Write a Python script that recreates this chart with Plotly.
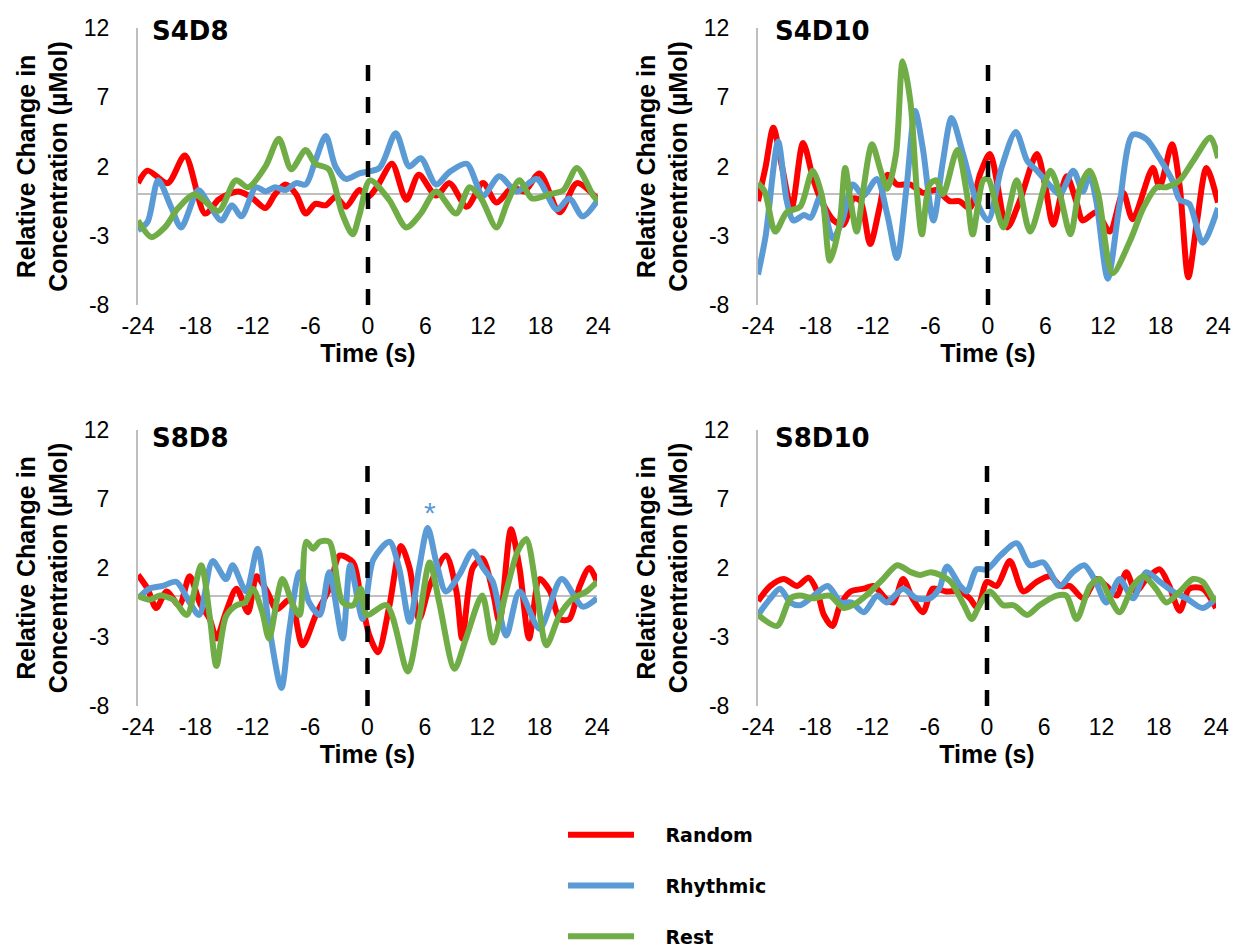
import plotly.graph_objects as go

# ---------------- data (time in s, relative change in µMol) ----------------
series_names = ["Random", "Rhythmic", "Rest"]
series_colors = ["#FF0000", "#5B9BD5", "#70AD47"]
panel_titles = ["S4D8", "S4D10", "S8D8", "S8D10"]
x_ticks = [-24, -18, -12, -6, 0, 6, 12, 18, 24]
x_tick_labels = ["-24", "-18", "-12", "-6", "0", "6", "12", "18", "24"]
y_ticks = [-8, -3, 2, 7, 12]
y_tick_labels = ["-8", "-3", "2", "7", "12"]

# S4D8
s4d8_random_t = [-24, -23, -20.9, -19.1, -17, -15.6, -14.6, -13.5, -12.2, -10.7, -9.7, -8.6, -7.5, -6.5, -5.5, -4.4, -3.4, -2.3, -0.9, 0, 1.0, 2.5, 4.0, 5.3, 7.1, 8.5, 10.3, 12, 13.4, 15.1, 16.3, 17.9, 20, 21.8, 24]
s4d8_random_v = [0.8, 1.7, 0.8, 2.8, -1.4, -0.4, 0.0, 0.2, -0.2, -1.0, 0.0, 0.7, 0.0, -1.4, -0.7, -0.8, -0.2, -0.9, 0.3, -0.2, 0.6, 2.2, -0.4, 1.4, -0.1, 0.8, -0.9, 0.8, -0.6, 0.5, 0.2, 1.5, -1.3, 0.8, -0.4]
s4d8_rhythmic_t = [-24, -23, -21.9, -20.5, -19.5, -17.7, -16.7, -15.3, -14.2, -13.2, -11.7, -10.7, -9.7, -8.6, -7.5, -6.5, -5.5, -4.4, -3.4, -2.3, -0.9, 1.2, 2.9, 4.3, 5.5, 7.1, 8.5, 10.3, 12, 13.7, 15.5, 17.6, 19.7, 21, 22.4, 24]
s4d8_rhythmic_v = [-2.6, -2.0, 1.0, -1.0, -2.4, 0.3, -0.6, -1.9, -0.8, -1.6, 0.5, 0.2, 0.5, 0.3, 0.8, 0.7, 2.4, 4.2, 2.0, 1.1, 1.5, 1.9, 4.4, 2.0, 2.6, 0.7, 1.6, 2.2, -0.1, 1.3, 0.2, 1.1, -1.1, -0.3, -1.6, -0.4]
s4d8_rest_t = [-24, -22.6, -21.2, -19.8, -18.1, -15.6, -13.8, -12.5, -10.7, -9.3, -8.0, -6.5, -5.5, -4.1, -2.7, -1.6, -0.9, 0.2, 2.2, 4.0, 5.5, 7.1, 9.2, 10.6, 11.8, 13.4, 14.6, 15.8, 17.1, 19, 20.4, 21.8, 23.5, 24]
s4d8_rest_v = [-1.9, -3.1, -2.4, -1.0, 0.0, -1.2, 1.0, 0.5, 2.0, 4.0, 1.8, 3.2, 2.2, 1.8, -1.4, -2.9, -1.5, 1.0, -0.4, -2.4, -1.4, 0.2, -1.4, 0.5, -0.3, -2.4, -0.5, 1.0, -0.3, 0.0, 0.3, 1.9, -0.1, -0.5]

# S4D10
s4d10_random_t = [-24, -23.2, -22.4, -21.5, -20.5, -19.3, -18.2, -17.5, -16.1, -15.1, -14.0, -13.3, -12.3, -11.3, -10.5, -9.5, -8.1, -6.8, -5.4, -4.0, -3.0, -1.9, -0.8, 0.2, 2.0, 3.3, 5.1, 6.0, 6.8, 8.2, 9.2, 9.9, 11.3, 12.7, 14.1, 15.1, 17.2, 17.9, 19.2, 20.0, 20.9, 21.8, 22.8, 24]
s4d10_random_v = [-0.5, 2.0, 4.8, 2.0, -1.0, 3.7, 1.0, -0.3, -1.9, -2.2, -0.3, -0.5, -3.6, -0.9, 1.4, 0.7, 0.7, 0.1, 0.3, -0.5, -0.5, -1.0, 1.5, 2.9, -2.4, -0.5, 2.9, 0.5, -2.2, 1.3, -0.5, -1.9, -1.3, -2.7, 0.1, -1.8, 1.9, 0.5, 3.6, 0.6, -6.0, -2.0, 1.9, -0.6]
s4d10_rhythmic_t = [-24, -23.2, -21.9, -21.0, -20.3, -19.2, -18.5, -17.5, -16.2, -15.2, -14.1, -13.0, -11.6, -10.5, -9.5, -8.5, -7.6, -6.8, -5.7, -4.7, -3.8, -2.6, -1.2, 0, 1.4, 2.9, 4.1, 5.1, 6.5, 7.5, 8.9, 9.9, 10.6, 11.3, 12.5, 13.7, 15.1, 16.5, 17.9, 19.3, 20.0, 21.0, 22.4, 24]
s4d10_rhythmic_v = [-5.8, -3.0, 3.8, -0.5, -1.9, -1.5, -1.7, -0.2, -3.2, -1.9, 0.7, -0.1, 1.1, -1.5, -4.6, 0.5, 6.0, 3.3, -1.9, 2.4, 5.5, 2.9, -0.5, -1.9, 1.9, 4.5, 2.4, 1.7, 0.6, 0.0, 1.7, 0.2, 1.4, -0.5, -6.1, -0.9, 4.3, 4.0, 2.6, 0.9, -0.4, -0.7, -3.5, -1.0]
s4d10_rest_t = [-24, -23.3, -22.2, -21.0, -19.6, -18.3, -17.3, -16.5, -15.5, -14.9, -14.4, -13.7, -13.0, -12.1, -11.2, -10.5, -9.6, -8.9, -8.1, -7.4, -6.9, -6.1, -5.4, -4.7, -3.2, -2.2, -1.6, -0.5, 0.0, 1.6, 3.0, 4.4, 6.5, 7.5, 8.6, 9.6, 10.6, 11.5, 13.0, 14.8, 16.2, 17.6, 18.6, 20.0, 21.4, 23.2, 24]
s4d10_rest_v = [0.8, 0.2, -2.7, -1.3, -0.9, 1.7, -0.2, -4.8, -2.2, 1.9, -0.2, -2.7, 0.4, 3.6, 1.7, 0.4, 2.9, 9.6, 6.7, 0.0, -2.9, 0.7, 1.0, 0.0, 3.2, 0.0, -2.9, 1.0, 1.1, -2.4, 1.0, -2.7, 1.7, 0.0, -2.9, 0.5, 1.7, 0.0, -5.7, -3.4, -1.0, 0.5, 0.5, 1.0, 2.4, 4.1, 2.6]

# S8D8
s8d8_random_t = [-24, -23, -22.1, -21.0, -19.7, -18.6, -17.5, -16.5, -15.8, -14.8, -13.7, -12.5, -11.6, -10.5, -9.5, -8.1, -6.8, -5.4, -4.0, -2.9, -1.5, -0.8, 0.2, 1.1, 2.3, 3.5, 4.4, 5.4, 6.5, 8.2, 9.3, 9.9, 11.0, 12.0, 13.1, 13.8, 15.0, 15.9, 16.9, 18.0, 19.1, 20.1, 21.1, 22.2, 23.2, 24]
s8d8_random_v = [1.5, 0.5, -0.9, 0.3, -0.7, 1.4, -0.6, -1.7, -3.1, -1.2, 0.5, -1.2, 1.4, 0.3, -1.0, -0.3, -3.6, -1.4, 0.5, 2.9, 2.4, 0.3, -2.9, -4.1, -0.7, 3.6, 2.0, -1.7, 0.7, 2.9, 0.3, -3.1, 2.0, 2.7, 0.3, -1.9, 4.8, 2.0, -3.1, 1.2, 0.3, -1.7, -1.7, 0.7, 2.0, 1.0]
s8d8_rhythmic_t = [-24, -22.8, -21.4, -20.0, -18.6, -17.6, -16.2, -14.8, -14.1, -12.7, -11.5, -10.3, -9.0, -8.2, -7.1, -6.1, -5.0, -4.0, -2.6, -1.8, -0.5, 0.6, 2.3, 3.3, 4.4, 5.4, 6.3, 7.2, 8.2, 9.6, 11.0, 12.1, 13.1, 14.5, 15.9, 18.0, 20.3, 22.5, 24]
s8d8_rhythmic_v = [-0.2, 0.5, 0.7, 1.0, -0.5, -1.4, 2.5, 1.2, 2.2, 0.3, 3.4, -2.2, -6.7, -2.6, 1.7, -0.5, -1.4, 1.7, -3.1, 2.2, -1.7, 2.6, 3.9, 2.0, -1.9, 2.0, 4.9, 2.4, 0.3, 1.5, 3.2, 2.0, 1.0, -2.9, 0.3, -2.4, 1.2, -0.8, -0.2]
s8d8_rest_t = [-24, -22.8, -21.7, -20.3, -18.9, -17.4, -16.5, -15.8, -14.8, -13.7, -12.8, -12.0, -11.0, -10.3, -8.9, -7.8, -7.1, -6.4, -5.7, -5.0, -4.0, -2.6, -1.5, -0.7, -0.1, 2.0, 4.2, 5.4, 6.5, 7.5, 9.1, 10.3, 12.0, 13.1, 14.5, 15.7, 16.6, 17.7, 18.7, 20.1, 21.5, 22.9, 24]
s8d8_rest_v = [0.0, -0.3, 0.0, -0.3, -1.4, 2.2, -1.5, -5.1, -1.5, -0.7, -0.5, 0.5, -1.2, -3.1, 1.2, -0.7, -1.4, 3.9, 3.4, 3.9, 3.9, -0.5, -0.7, 0.5, -1.4, -0.7, -5.5, -1.7, 2.4, -0.5, -5.3, -3.1, 0.0, -3.4, 0.3, 3.2, 4.1, 0.3, -3.6, -1.4, -0.2, 0.3, 1.0]

# S8D10
s8d10_random_t = [-24, -22.7, -21.3, -19.9, -18.7, -17.8, -17.1, -16.2, -15.4, -14.3, -12.9, -11.9, -10.5, -9.8, -8.8, -7.8, -6.7, -5.7, -4.3, -2.9, -1.8, -1.0, 0.0, 1.0, 2.4, 3.8, 5.2, 6.6, 7.7, 8.7, 10.1, 11.5, 12.5, 13.6, 14.6, 15.6, 16.7, 18.1, 19.1, 20.2, 21.2, 22.6, 24]
s8d10_random_v = [-0.4, 0.7, 1.2, 0.7, 1.3, 0.3, -1.4, -2.2, -0.7, 0.3, 0.5, 0.7, -0.3, -0.5, 1.2, -0.2, -1.2, 0.5, 0.3, 0.3, -0.2, -0.9, 1.0, 0.7, 2.5, 0.3, 1.0, 1.4, 0.7, 0.7, -0.2, 1.2, 0.7, 0.0, 1.7, 0.3, 1.2, 1.9, 0.7, -1.1, 0.5, 0.5, -0.9]
s8d10_rhythmic_t = [-24, -22.7, -21.7, -20.6, -19.6, -18.5, -16.7, -15.3, -14.2, -12.9, -11.5, -10.5, -8.8, -7.4, -6.0, -5.0, -4.2, -2.8, -2.1, -1.1, 0.0, 1.4, 3.1, 4.5, 5.9, 7.6, 9.0, 10.2, 11.4, 12.5, 13.9, 15.3, 16.7, 18.1, 19.5, 20.9, 22.6, 24]
s8d10_rhythmic_v = [-1.4, -0.2, 0.5, -0.5, -0.7, -0.2, 0.7, -0.5, -0.5, -1.2, 0.0, -0.5, 0.5, -0.2, -0.2, 0.5, 2.1, 0.7, 0.3, 1.9, 1.9, 2.9, 3.8, 2.2, 2.4, 0.7, 1.7, 2.2, 1.0, -0.5, 1.2, -0.2, 1.7, 1.0, 0.3, -0.2, -0.9, -0.2]
s8d10_rest_t = [-24, -22.0, -20.6, -19.6, -18.2, -16.5, -15.0, -13.6, -12.2, -10.9, -9.4, -8.0, -7.0, -5.9, -4.9, -3.8, -2.4, -1.6, -0.8, 0.3, 1.7, 2.8, 4.2, 5.5, 7.3, 8.3, 9.4, 10.8, 11.8, 12.9, 13.9, 15.3, 16.4, 17.7, 18.8, 20.2, 21.6, 22.6, 23.7, 24]
s8d10_rest_v = [-1.4, -2.2, -0.2, 0.0, -0.2, 0.0, -0.9, -0.5, 0.3, 1.2, 2.2, 1.7, 1.5, 1.7, 1.5, 1.0, -0.7, -1.7, -0.7, 0.3, -0.7, -0.7, -1.4, -0.7, 0.0, 0.0, -1.7, 0.7, 1.2, -0.2, -1.2, 0.7, 1.4, 0.5, -0.5, 0.3, 1.2, 1.0, -0.2, -0.4]

onset_t = [0, 0]
onset_v = [-8, 10]

star_t = 6.5
star_v = 4.7

panels = [
    [(s4d8_random_t, s4d8_random_v), (s4d8_rhythmic_t, s4d8_rhythmic_v), (s4d8_rest_t, s4d8_rest_v)],
    [(s4d10_random_t, s4d10_random_v), (s4d10_rhythmic_t, s4d10_rhythmic_v), (s4d10_rest_t, s4d10_rest_v)],
    [(s8d8_random_t, s8d8_random_v), (s8d8_rhythmic_t, s8d8_rhythmic_v), (s8d8_rest_t, s8d8_rest_v)],
    [(s8d10_random_t, s8d10_random_v), (s8d10_rhythmic_t, s8d10_rhythmic_v), (s8d10_rest_t, s8d10_rest_v)],
]

# ---------------- layout geometry (page pixels) ----------------
W, H = 1242, 952
x_domains = [(138, 598), (758, 1218), (138, 597), (758, 1216)]
y_domains = [(28, 305), (28, 305), (430, 706), (430, 706)]
title_pos = [(150, 31), (773, 31), (150, 438), (773, 438)]


def px_x(x):
    return x / W


def px_y(y):
    return 1 - y / H


TICK_FONT = dict(family="Liberation Sans, Arial", size=23, color="#000000")
AXTITLE_FONT = dict(family="Liberation Sans, Arial", size=25, color="#000000", weight="bold")
PANEL_FONT = dict(family="DejaVu Sans", size=26, color="#000000", weight="bold")
AXIS_GRAY = "#BFBFBF"
PAD = "\u00a0\u00a0\u00a0\u00a0"

fig = go.Figure()
layout = dict(
    width=W, height=H,
    margin=dict(l=0, r=0, t=0, b=0, autoexpand=False),
    paper_bgcolor="white", plot_bgcolor="white",
    showlegend=True,
    annotations=[],
)

for i, series in enumerate(panels):
    n = i + 1
    xa = "x" if n == 1 else f"x{n}"
    ya = "y" if n == 1 else f"y{n}"
    for j, (t, v) in enumerate(series):
        fig.add_trace(go.Scatter(
            x=t, y=v, mode="lines", name=PAD + series_names[j],
            line=dict(color=series_colors[j], width=6, shape="spline", smoothing=0.8),
            xaxis=xa, yaxis=ya, showlegend=(i == 0), legendgroup=series_names[j],
        ))
    fig.add_trace(go.Scatter(
        x=onset_t, y=onset_v, mode="lines", showlegend=False,
        line=dict(color="black", width=4.5, dash="16px,16px"),
        xaxis=xa, yaxis=ya, hoverinfo="skip",
    ))
    x0, x1 = x_domains[i]
    y0, y1 = y_domains[i]
    layout["xaxis" if n == 1 else f"xaxis{n}"] = dict(
        domain=[px_x(x0), px_x(x1)], anchor=ya, range=[-24, 24], automargin=False,
        tickmode="array", tickvals=x_ticks, ticktext=x_tick_labels,
        ticks="", showgrid=False, zeroline=False,
        showline=False, tickfont=TICK_FONT, ticklabelstandoff=5,
        title=dict(text="Time (s)", font=AXTITLE_FONT, standoff=6),
    )
    layout["yaxis" if n == 1 else f"yaxis{n}"] = dict(
        domain=[px_y(y1), px_y(y0)], anchor=xa, range=[-8, 12], automargin=False,
        tickmode="array", tickvals=y_ticks, ticktext=y_tick_labels,
        ticks="", showgrid=False,
        zeroline=True, zerolinecolor=AXIS_GRAY, zerolinewidth=2,
        showline=True, linecolor=AXIS_GRAY, linewidth=2,
        tickfont=TICK_FONT, ticklabelstandoff=22,
        title=dict(text="Relative Change in<br>Concentration (µMol)", font=AXTITLE_FONT, standoff=9),
    )
    tx, ty = title_pos[i]
    layout["annotations"].append(dict(
        text=panel_titles[i], xref="paper", yref="paper",
        x=px_x(tx), y=px_y(ty), xanchor="left", yanchor="middle",
        showarrow=False, font=PANEL_FONT,
    ))

# significance asterisk on S8D8 rhythmic peak
layout["annotations"].append(dict(
    text="*", xref="x3", yref="y3", x=star_t, y=star_v,
    xanchor="center", yanchor="bottom", showarrow=False,
    font=dict(family="Liberation Sans, Arial", size=30, color="#5B9BD5"),
))

layout["legend"] = dict(
    x=px_x(563), y=px_y(816), xanchor="left", yanchor="top",
    orientation="v", tracegroupgap=23, itemwidth=66,
    font=dict(family="DejaVu Sans", size=19, color="#000000", weight="bold"),
    bgcolor="rgba(0,0,0,0)",
)

fig.update_layout(**layout)
# remove the default 8px page margin so the figure fills the window exactly
fig.write_html(
    "out.html",
    config={"displayModeBar": False},
    post_script="document.body.style.margin='0';document.body.style.overflow='hidden';",
)
